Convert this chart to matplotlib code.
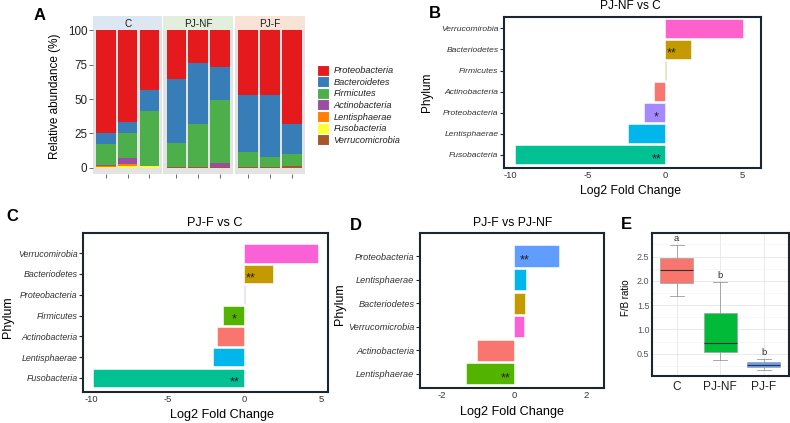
import matplotlib
matplotlib.use("Agg")
import matplotlib.pyplot as plt
import numpy as np
from matplotlib.patches import Patch

plt.rcParams['font.family'] = ['Liberation Sans', 'DejaVu Sans']

W, H = 790, 423

# ---------------- Data ----------------
# Panel A: relative abundance (%) per sample
phyla_A = ["Proteobacteria", "Bacteroidetes", "Firmicutes", "Actinobacteria",
           "Lentisphaerae", "Fusobacteria", "Verrucomicrobia"]
groups_A = ["C", "PJ-NF", "PJ-F"]
abund_C = {
    "Proteobacteria": [75.0, 67.0, 43.5],
    "Bacteroidetes": [8.0, 8.0, 15.0],
    "Firmicutes": [15.4, 18.0, 40.2],
    "Actinobacteria": [0.2, 4.5, 0.1],
    "Lentisphaerae": [0.6, 1.5, 0.2],
    "Fusobacteria": [0.8, 1.0, 1.0],
    "Verrucomicrobia": [0.0, 0.0, 0.0],
}
abund_PJNF = {
    "Proteobacteria": [35.2, 23.5, 27.0],
    "Bacteroidetes": [46.5, 44.7, 23.7],
    "Firmicutes": [17.5, 31.3, 46.0],
    "Actinobacteria": [0.3, 0.2, 2.8],
    "Lentisphaerae": [0.0, 0.0, 0.0],
    "Fusobacteria": [0.0, 0.0, 0.0],
    "Verrucomicrobia": [0.5, 0.3, 0.5],
}
abund_PJF = {
    "Proteobacteria": [47.3, 47.2, 68.2],
    "Bacteroidetes": [41.3, 45.0, 22.0],
    "Firmicutes": [11.0, 7.5, 8.3],
    "Actinobacteria": [0.2, 0.1, 0.5],
    "Lentisphaerae": [0.0, 0.0, 0.0],
    "Fusobacteria": [0.0, 0.0, 0.0],
    "Verrucomicrobia": [0.2, 0.2, 1.0],
}
yticks_A = [0, 25, 50, 75, 100]

# Panel B: PJ-NF vs C (top to bottom)
cats_B = ["Verrucomirobia", "Bacteriodetes", "Firmicutes", "Actinobacteria",
          "Proteobacteria", "Lentisphaerae", "Fusobacteria"]
lfc_B = [5.03, 1.7, 0.08, -0.7, -1.37, -2.36, -9.65]
sig_B = ["", "**", "", "", "*", "", "**"]

# Panel C: PJ-F vs C
cats_C = ["Verrucomirobia", "Bacteriodetes", "Proteobacteria", "Firmicutes",
          "Actinobacteria", "Lentisphaerae", "Fusobacteria"]
lfc_C = [4.84, 1.86, 0.04, -1.37, -1.78, -2.07, -9.87]
sig_C = ["", "**", "", "*", "", "", "**"]

# Panel D: PJ-F vs PJ-NF
cats_D = ["Proteobacteria", "Lentisphaerae", "Bacteriodetes", "Verrucomicrobia",
          "Actinobacteria", "Lentisphaerae"]
lfc_D = [1.24, 0.32, 0.30, 0.26, -1.03, -1.34]
sig_D = ["**", "", "", "", "", "**"]

# Panel E: F/B ratio box statistics
groups_E = ["C", "PJ-NF", "PJ-F"]
med_E = [2.23, 0.72, 0.27]
q1_E = [1.965, 0.54, 0.22]
q3_E = [2.47, 1.33, 0.33]
wlo_E = [1.69, 0.37, 0.16]
whi_E = [2.73, 1.97, 0.39]
letters_E = ["a", "b", "b"]
yticks_E = [0.5, 1.0, 1.5, 2.0, 2.5]

# ---------------- Styles ----------------
colA = {"Proteobacteria": "#E41A1C", "Bacteroidetes": "#377EB8", "Firmicutes": "#4DAF4A",
        "Actinobacteria": "#984EA3", "Lentisphaerae": "#FF7F00", "Fusobacteria": "#FFFF33",
        "Verrucomicrobia": "#A65628"}
strip_cols = ["#DCE7F2", "#E2EFDD", "#F8E3D6"]
colors_B = ["#FF61CC", "#C49A00", "#7CAE00", "#F8766D", "#A58AFF", "#00B6EB", "#00C094"]
colors_C = ["#FB61D7", "#C49A00", "#A58AFF", "#53B400", "#F8766D", "#00B6EB", "#00C094"]
colors_D = ["#619CFF", "#00B6EB", "#C49A00", "#FB61D7", "#F8766D", "#53B400"]
colors_E = ["#F8766D", "#00BA38", "#619CFF"]
frame_col = "#1B2631"


def rect(x0, y0, x1, y1):
    return [x0 / W, 1 - y1 / H, (x1 - x0) / W, (y1 - y0) / H]


def ftext(x, y, s, **kw):
    fig.text(x / W, 1 - y / H, s, **kw)


fig = plt.figure(figsize=(W / 100, H / 100), dpi=100)

# ---------------- Panel A ----------------
facet_x = [(93, 162.3), (163.3, 233.3), (234.7, 305)]
datasets = [abund_C, abund_PJNF, abund_PJF]
stack_order = phyla_A[::-1]  # bottom to top
for gi, (g, (x0, x1), d) in enumerate(zip(groups_A, facet_x, datasets)):
    ax = fig.add_axes(rect(x0, 30, x1, 174))
    ax.set_facecolor("#E3E3E3")
    xs = np.arange(1, 4)
    bottom = np.zeros(3)
    for p in stack_order:
        vals = np.array(d[p])
        ax.bar(xs, vals, bottom=bottom, width=0.9, color=colA[p], edgecolor="none")
        bottom += vals
    ax.set_xlim(0.4, 3.6)
    ax.set_ylim(-4.6, 100.3)
    for s in ax.spines.values():
        s.set_visible(False)
    ax.set_xticks(xs)
    ax.set_xticklabels([])
    ax.tick_params(axis='x', length=3, color="#555555", width=0.6)
    ax.set_yticks(yticks_A)
    if gi == 0:
        ax.set_yticklabels([str(v) for v in yticks_A], fontsize=8.4, color="#222222")
        ax.tick_params(axis='y', length=3, color="#555555", width=0.6, pad=1)
    else:
        ax.tick_params(axis='y', length=0)
        ax.set_yticklabels([])
    # strip
    sax = fig.add_axes(rect(x0, 16, x1, 30))
    sax.set_facecolor(strip_cols[gi])
    sax.set_xticks([]); sax.set_yticks([])
    for s in sax.spines.values():
        s.set_visible(False)
    sax.text(0.5, 0.45, g, ha="center", va="center", fontsize=7.2, color="#1A1A1A",
             transform=sax.transAxes)

ftext(55, 96, "Relative abundance (%)", rotation=90, ha="center", va="center", fontsize=8.5)
handles = [Patch(facecolor=colA[p], edgecolor="white", linewidth=0.8) for p in phyla_A]
leg = fig.legend(handles, phyla_A, loc="upper left", bbox_to_anchor=(316.7 / W, 1 - 64.5 / H),
                 frameon=False, fontsize=6.7, handlelength=1.3, handleheight=1.45,
                 labelspacing=0.06, handletextpad=0.5, borderpad=0, borderaxespad=0)
for t in leg.get_texts():
    t.set_fontstyle("italic")
    t.set_color("#222222")


# ---------------- Bar panels ----------------
def lfc_panel(box, cats, vals, cols, sigs, xlim, ylim, xticks, fs_tick, star_off):
    ax = fig.add_axes(rect(*box))
    n = len(cats)
    pos = np.arange(n, 0, -1)
    ax.barh(pos, vals, height=0.9, color=cols, edgecolor="white", linewidth=0.4)
    for p, v, s in zip(pos, vals, sigs):
        if s:
            xx = star_off[0] if v > 0 else star_off[1]
            ax.text(xx, p - 0.2, s, ha="center", va="center", fontsize=9, color="#222222")
    ax.set_xlim(*xlim)
    ax.set_ylim(*ylim)
    ax.set_yticks(pos)
    ax.set_yticklabels(cats, fontsize=fs_tick, fontstyle="italic", color="#333333")
    ax.set_xticks(xticks)
    ax.set_xticklabels([str(t) for t in xticks], fontsize=6.8, color="#333333")
    ax.tick_params(axis='y', length=3, width=0.8, color=frame_col, pad=1)
    ax.tick_params(axis='x', length=0, pad=2)
    for s in ax.spines.values():
        s.set_linewidth(1.5)
        s.set_color(frame_col)
    return ax


lfc_panel((504, 17, 761, 168), cats_B, lfc_B, colors_B, sig_B, (-10.39, 6.19),
          (0.38, 7.54), [-10, -5, 0, 5], 6.1, (0.45, -0.55))
ftext(630, 6, "PJ-NF vs C", ha="center", va="center", fontsize=8.6)
ftext(631, 191, "Log2 Fold Change", ha="center", va="center", fontsize=8.8)
ftext(426.7, 92.5, "Phylum", rotation=90, ha="center", va="center", fontsize=8.5)

lfc_panel((83, 233, 328, 392), cats_C, lfc_C, colors_C, sig_C, (-10.54, 5.47),
          (0.32, 7.97), [-10, -5, 0, 5], 6.4, (0.4, -0.65))
ftext(215, 222.7, "PJ-F vs C", ha="center", va="center", fontsize=9.1)
ftext(222, 415, "Log2 Fold Change", ha="center", va="center", fontsize=9.1)
ftext(8, 316.7, "Phylum", rotation=90, ha="center", va="center", fontsize=9)

lfc_panel((420, 233, 604.3, 388), cats_D, lfc_D, colors_D, sig_D, (-2.6, 2.49),
          (0.4, 6.98), [-2, 0, 2], 6.6, (0.28, -0.23))
ftext(513, 222.7, "PJ-F vs PJ-NF", ha="center", va="center", fontsize=8.8)
ftext(512, 411.7, "Log2 Fold Change", ha="center", va="center", fontsize=9.1)
ftext(340, 304, "Phylum", rotation=90, ha="center", va="center", fontsize=9)

# ---------------- Panel E ----------------
axE = fig.add_axes(rect(652.3, 233.3, 789.3, 375.7))
stats = []
for g, m, a, b, lo, hi in zip(groups_E, med_E, q1_E, q3_E, wlo_E, whi_E):
    stats.append(dict(label=g, med=m, q1=a, q3=b, whislo=lo, whishi=hi, fliers=[]))
bp = axE.bxp(stats, positions=[1, 2, 3], widths=0.76, patch_artist=True,
             showfliers=False, capwidths=0.32,
             boxprops=dict(edgecolor="#A0A0A0", linewidth=0.5),
             medianprops=dict(color="#333333", linewidth=0.8),
             whiskerprops=dict(color="#9A9A9A", linewidth=0.6),
             capprops=dict(color="#9A9A9A", linewidth=0.6))
for patch, c in zip(bp["boxes"], colors_E):
    patch.set_facecolor(c)
for i, (l, hi) in enumerate(zip(letters_E, whi_E)):
    axE.text(i + 1, hi + 0.04, l, ha="center", va="bottom", fontsize=6.8, color="#333333")
axE.set_xlim(0.44, 3.59)
axE.set_ylim(0.046, 2.98)
axE.set_yticks(yticks_E)
axE.set_yticklabels([f"{v:.1f}" for v in yticks_E], fontsize=6.5, color="#555555")
axE.set_yticks([0.25, 0.75, 1.25, 1.75, 2.25, 2.75], minor=True)
axE.set_xticks([1, 2, 3])
axE.set_xticklabels(groups_E, fontsize=8.6, color="#222222")
axE.grid(True, which="major", color="#E6E6E6", linewidth=0.6)
axE.grid(True, which="minor", axis="y", color="#F2F2F2", linewidth=0.4)
axE.set_axisbelow(True)
axE.tick_params(axis='both', which='both', length=0)
axE.tick_params(axis='y', pad=2)
axE.tick_params(axis='x', pad=4)
for s in axE.spines.values():
    s.set_linewidth(1.5)
    s.set_color(frame_col)
ftext(625.7, 297.5, "F/B ratio", rotation=90, ha="center", va="center", fontsize=7)

# ---------------- Panel letters ----------------
for lab, x, y in [("A", 40, 15), ("B", 435, 13), ("C", 12, 216.7), ("D", 356, 225), ("E", 626.7, 224)]:
    ftext(x, y, lab, ha="center", va="center", fontsize=12, fontweight="bold")

fig.savefig("out.png", dpi=100)
